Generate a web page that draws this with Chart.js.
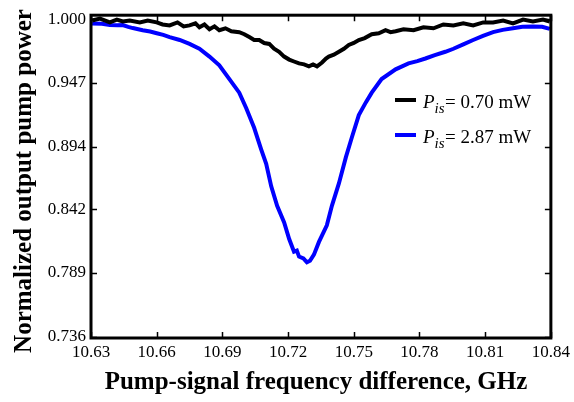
<!DOCTYPE html>
<html><head><meta charset="utf-8">
<script src="https://cdn.jsdelivr.net/npm/chart.js@4.4.1/dist/chart.umd.min.js"></script>
<style>html,body{margin:0;padding:0;background:#fff;}#wrap{width:574px;height:402px;position:relative;}</style>
</head><body><div id="wrap"><canvas id="c" width="574" height="402"></canvas></div>
<script>
// ---- data ----
const freqBlack = [10.6305,10.6341,10.6386,10.6418,10.6445,10.6477,10.6523,10.6559,10.6600,10.6627,10.6659,10.6695,10.6723,10.6750,10.6777,10.6795,10.6818,10.6841,10.6864,10.6886,10.6914,10.6941,10.6977,10.7000,10.7023,10.7045,10.7068,10.7091,10.7114,10.7136,10.7159,10.7182,10.7205,10.7227,10.7250,10.7273,10.7295,10.7314,10.7332,10.7355,10.7373,10.7386,10.7409,10.7432,10.7455,10.7477,10.7500,10.7523,10.7550,10.7582,10.7614,10.7645,10.7668,10.7691,10.7727,10.7773,10.7818,10.7864,10.7909,10.7955,10.8000,10.8045,10.8091,10.8136,10.8182,10.8227,10.8273,10.8318,10.8364,10.8395];
const powerBlack = [0.9988,1.0004,0.9972,0.9996,0.9980,0.9988,0.9972,0.9988,0.9972,0.9955,0.9947,0.9972,0.9939,0.9947,0.9964,0.9931,0.9955,0.9915,0.9939,0.9907,0.9923,0.9899,0.9891,0.9874,0.9850,0.9826,0.9826,0.9801,0.9793,0.9753,0.9728,0.9688,0.9663,0.9647,0.9631,0.9623,0.9607,0.9623,0.9607,0.9639,0.9672,0.9688,0.9704,0.9728,0.9753,0.9785,0.9801,0.9826,0.9842,0.9874,0.9882,0.9907,0.9891,0.9899,0.9915,0.9907,0.9931,0.9923,0.9955,0.9947,0.9964,0.9947,0.9972,0.9972,0.9988,0.9964,0.9996,0.9980,0.9996,0.9980];
const freqBlue = [10.6305,10.6350,10.6386,10.6420,10.6445,10.6470,10.6491,10.6536,10.6570,10.6600,10.6630,10.6659,10.6705,10.6750,10.6795,10.6841,10.6886,10.6932,10.6977,10.7009,10.7045,10.7077,10.7100,10.7123,10.7150,10.7182,10.7205,10.7227,10.7240,10.7250,10.7270,10.7286,10.7300,10.7318,10.7341,10.7377,10.7400,10.7432,10.7464,10.7491,10.7523,10.7555,10.7582,10.7627,10.7691,10.7750,10.7790,10.7827,10.7870,10.7918,10.7955,10.8000,10.8045,10.8090,10.8136,10.8180,10.8227,10.8270,10.8318,10.8360,10.8395];
const powerBlue = [0.9964,0.9960,0.9951,0.9948,0.9950,0.9935,0.9925,0.9907,0.9896,0.9882,0.9868,0.9850,0.9826,0.9793,0.9753,0.9688,0.9615,0.9500,0.9388,0.9258,0.9096,0.8917,0.8796,0.8609,0.8447,0.8309,0.8171,0.8066,0.8075,0.8025,0.8010,0.7977,0.7990,0.8041,0.8147,0.8285,0.8447,0.8633,0.8852,0.9015,0.9201,0.9307,0.9388,0.9501,0.9582,0.9631,0.9650,0.9672,0.9700,0.9728,0.9753,0.9790,0.9826,0.9860,0.9891,0.9910,0.9923,0.9935,0.9939,0.9936,0.9918];
const xTicks = [10.63,10.66,10.69,10.72,10.75,10.78,10.81,10.84];
const yTicks = [0.736,0.789,0.842,0.894,0.947,1.000];
const seriesPower = ['0.70 mW','2.87 mW'];
const xTitle = 'Pump-signal frequency difference, GHz';
const yTitle = 'Normalized output pump power';

const SERIF = "'Liberation Serif','Times New Roman',serif";

const framePlugin = {
  id: 'frame',
  afterDraw(chart) {
    const {ctx, chartArea: a, scales} = chart;
    ctx.save();
    ctx.strokeStyle = '#000';
    ctx.lineWidth = 1.5;
    ctx.beginPath();
    xTicks.forEach(v => {
      const px = Math.round(scales.x.getPixelForValue(v)) + 0.5;
      ctx.moveTo(px, a.bottom); ctx.lineTo(px, a.bottom - 6);
      ctx.moveTo(px, a.top); ctx.lineTo(px, a.top + 6);
    });
    yTicks.forEach(v => {
      const py = Math.round(scales.y.getPixelForValue(v)) + 0.5;
      ctx.moveTo(a.left, py); ctx.lineTo(a.left + 6, py);
      ctx.moveTo(a.right, py); ctx.lineTo(a.right - 6, py);
    });
    ctx.stroke();
    ctx.lineWidth = 3;
    ctx.strokeRect(a.left, a.top, a.right - a.left, a.bottom - a.top);
    ctx.fillStyle = '#000';
    ctx.font = 'bold 25px ' + SERIF;
    ctx.textAlign = 'center';
    ctx.textBaseline = 'alphabetic';
    ctx.fillText(xTitle, 316, 389);
    ctx.save();
    ctx.translate(31, 181);
    ctx.rotate(-Math.PI / 2);
    ctx.fillText(yTitle, 0, 0);
    ctx.restore();
    const ds = chart.data.datasets;
    ds.forEach((d, i) => {
      const by = 108 + i * 35;
      ctx.strokeStyle = d.borderColor;
      ctx.lineWidth = 4;
      ctx.beginPath();
      ctx.moveTo(395, by - 8); ctx.lineTo(416, by - 8);
      ctx.stroke();
      ctx.textAlign = 'left';
      let x = 423;
      ctx.font = 'italic 19px ' + SERIF;
      ctx.fillText('P', x, by); x += ctx.measureText('P').width;
      ctx.font = 'italic 15px ' + SERIF;
      ctx.fillText('is', x, by + 5); x += ctx.measureText('is').width + 0.5;
      ctx.font = '19px ' + SERIF;
      ctx.fillText('= ' + seriesPower[i], x, by);
    });
    ctx.restore();
  }
};

const toPts = (xs, ys) => xs.map((x, i) => ({x, y: ys[i]}));

new Chart(document.getElementById('c'), {
  type: 'line',
  data: {
    datasets: [
      {label: 'Pis= ' + seriesPower[0], data: toPts(freqBlack, powerBlack), borderColor: '#000000', borderWidth: 4, pointRadius: 0, tension: 0, fill: false},
      {label: 'Pis= ' + seriesPower[1], data: toPts(freqBlue, powerBlue), borderColor: '#0000ff', borderWidth: 4, pointRadius: 0, tension: 0, fill: false}
    ]
  },
  options: {
    responsive: false,
    animation: false,
    devicePixelRatio: 1,
    layout: {padding: {top: 7, right: 21, bottom: 0, left: 0}},
    plugins: {legend: {display: false}, tooltip: {enabled: false}},
    scales: {
      x: {
        type: 'linear', min: 10.63, max: 10.84,
        afterBuildTicks: s => { s.ticks = xTicks.map(v => ({value: v})); },
        afterFit: s => { s.height = 64; },
        grid: {display: false, drawTicks: false},
        border: {display: false},
        ticks: {autoSkip: false, maxRotation: 0, padding: 4, color: '#000',
          font: {family: SERIF, size: 17},
          callback: v => Number(v).toFixed(2)}
      },
      y: {
        type: 'linear', min: 0.7348, max: 1.0032,
        afterBuildTicks: s => { s.ticks = yTicks.map(v => ({value: v})); },
        afterFit: s => { s.width = 91; },
        grid: {display: false, drawTicks: false},
        border: {display: false},
        ticks: {autoSkip: false, padding: 5, color: '#000',
          font: {family: SERIF, size: 17},
          callback: v => Number(v).toFixed(3)}
      }
    }
  },
  plugins: [framePlugin]
});
</script></body></html>
